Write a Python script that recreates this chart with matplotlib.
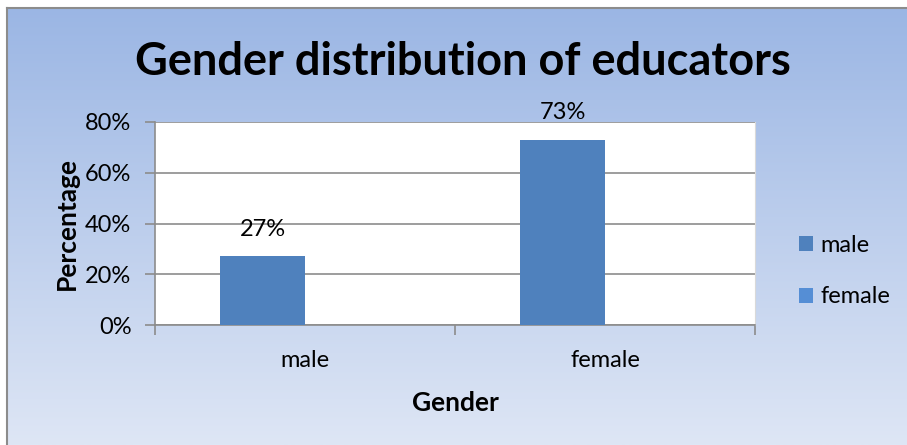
import numpy as np
import matplotlib
matplotlib.use("Agg")
import matplotlib.pyplot as plt
from matplotlib.ticker import FuncFormatter, FixedLocator, NullFormatter

categories = ["male", "female"]
series_names = ["male", "female"]
male_values = [0.27, 0.73]
female_values = [0.0, 0.0]
data_labels = ["27%", "73%"]
y_ticks = [0.0, 0.2, 0.4, 0.6, 0.8]

W, H = 907, 445
fig = plt.figure(figsize=(W / 100, H / 100), dpi=100)
fig.patch.set_facecolor("white")

# gradient background
bg = fig.add_axes([0, 0, 1, 1], zorder=-10)
bg.set_xlim(0, W); bg.set_ylim(H, 0); bg.axis("off")
top = np.array([155, 182, 228]) / 255
bot = np.array([222, 230, 245]) / 255
t = np.linspace(0, 1, 256)[:, None]
grad = (top[None, :] * (1 - t) + bot[None, :] * t)[:, None, :]
bg.imshow(grad, extent=[7, W, H, 8], aspect="auto", interpolation="bilinear")
bg.plot([7, 7], [H, 8], color="#8c8c8c", lw=1.5)
bg.plot([7, W], [8, 8], color="#8c8c8c", lw=1.5)

FONT = "Lato"
TICK = 17
# plot area
ax = fig.add_axes([155 / W, 1 - 325 / H, 600 / W, 203 / H])
ax.set_facecolor("white")
x = np.arange(len(categories))
width = 0.283
ax.bar(x - width / 2, male_values, width, color="#4F81BD", label=series_names[0], zorder=3)
ax.bar(x + width / 2, female_values, width, color="#558ED5", label=series_names[1], zorder=3)
for xi, v, lab in zip(x, male_values, data_labels):
    ax.annotate(lab, (xi - width / 2, v), xytext=(0, 12), textcoords="offset points",
                ha="center", va="bottom", fontsize=TICK, family=FONT, color="black")

ax.set_xlim(-0.5, 1.5)
ax.set_ylim(0, 0.8)
ax.set_yticks(y_ticks)
ax.yaxis.set_major_formatter(FuncFormatter(lambda v, p: f"{v*100:.0f}%"))
ax.yaxis.grid(True, color="#8c8c8c", lw=1.2, zorder=0)
ax.set_axisbelow(True)
ax.xaxis.set_major_locator(FixedLocator([-0.5, 0.5, 1.5]))
ax.xaxis.set_major_formatter(NullFormatter())
ax.xaxis.set_minor_locator(FixedLocator(x))
ax.set_xticklabels(categories, minor=True)
ax.tick_params(axis="x", which="minor", length=0, pad=18, labelsize=TICK)
ax.tick_params(axis="x", which="major", length=7, direction="out", color="#8c8c8c", width=1.2)
ax.tick_params(axis="y", length=7, direction="out", color="#8c8c8c", width=1.2, labelsize=TICK, pad=10)
for lab in ax.get_xticklabels(minor=True) + ax.get_yticklabels():
    lab.set_family(FONT)
for s in ["left", "bottom"]:
    ax.spines[s].set_color("#8c8c8c"); ax.spines[s].set_linewidth(1.2)
ax.spines["top"].set_visible(False)
ax.spines["right"].set_color("#d9d9d9")

ax.set_xlabel("Gender", fontsize=19, fontweight="bold", family=FONT, va="center")
ax.xaxis.set_label_coords(0.5, (325 - 403) / 203)
ax.set_ylabel("Percentage", fontsize=19, fontweight="bold", family=FONT, va="center")
ax.yaxis.set_label_coords((67 - 155) / 600, 0.5)

fig.text(463 / W, 1 - 62 / H, "Gender distribution of educators", ha="center", va="center",
         fontsize=32.5, fontweight="bold", family=FONT)

handles, labels = ax.get_legend_handles_labels()
fig.legend(handles, labels, loc="center left", bbox_to_anchor=(778 / W, 1 - 271 / H),
           frameon=False, prop={"family": FONT, "size": TICK}, handlelength=0.6, handleheight=0.6,
           handletextpad=0.3, labelspacing=1.3)

fig.savefig("out.png", dpi=100)
